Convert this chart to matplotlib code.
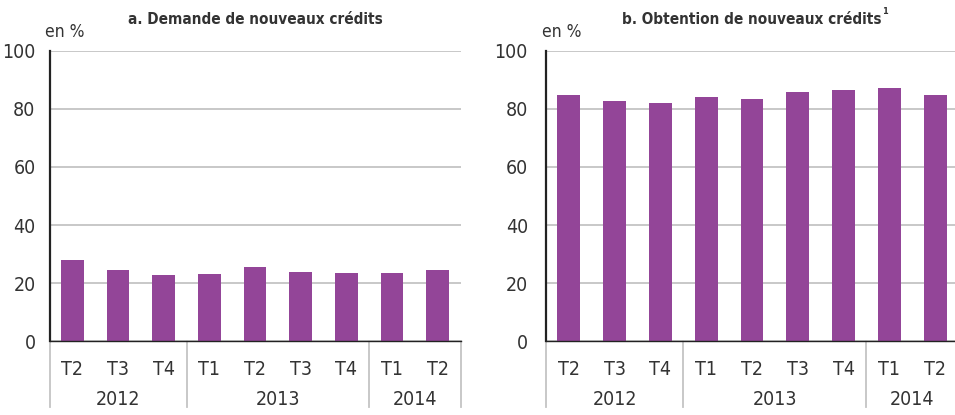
import matplotlib as mpl
import matplotlib.pyplot as plt
import matplotlib.transforms as mtransforms

mpl.use("Agg")

plt.rcParams["font.family"] = ["DejaVu Sans"]
plt.rcParams["font.stretch"] = "condensed"

IMAGE_DPI = 100.0

quarters = ["T2", "T3", "T4", "T1", "T2", "T3", "T4", "T1", "T2"]
years = ["2012", "2013", "2014"]
year_centers = [1.0, 4.5, 7.5]
year_bounds = [-0.5, 2.5, 6.5, 8.5]

demande = [27.9, 24.5, 22.8, 23.1, 25.5, 23.8, 23.4, 23.4, 24.5]
obtention = [84.7, 82.9, 82.2, 84.0, 83.6, 86.0, 86.7, 87.4, 84.9]

BAR_COLOR = "#934598"
TEXT_COLOR = "#333333"
GRID_COLOR = "#c4c4c4"


def plot_panel(fig, rect, values, title, sup, ypad):
    ax = fig.add_axes(rect)
    x = list(range(len(values)))
    ax.bar(x, values, width=0.5, color=BAR_COLOR, zorder=3)

    ax.set_xlim(-0.5, len(values) - 0.5)
    ax.set_ylim(0, 100)
    ax.set_yticks([0, 20, 40, 60, 80, 100])
    ax.yaxis.grid(True, color=GRID_COLOR, linewidth=1.3, zorder=0)
    ax.set_axisbelow(True)

    for side in ["top", "right"]:
        ax.spines[side].set_visible(False)
    ax.spines["left"].set_color("#222222")
    ax.spines["left"].set_linewidth(1.6)
    ax.spines["bottom"].set_color("#222222")
    ax.spines["bottom"].set_linewidth(1.0)
    ax.spines["left"].set_zorder(4)
    ax.spines["bottom"].set_zorder(4)

    ax.tick_params(axis="y", length=0, pad=ypad, labelsize=14, labelcolor=TEXT_COLOR)
    ax.set_xticks(x)
    ax.set_xticklabels(quarters)
    ax.tick_params(axis="x", length=0, pad=14, labelsize=14, labelcolor=TEXT_COLOR)

    trans = mtransforms.blended_transform_factory(ax.transData, ax.transAxes)
    for xc, yr in zip(year_centers, years):
        ax.text(xc, -0.2, yr, transform=trans, ha="center", va="center",
                fontsize=14, color=TEXT_COLOR)
    for xb in year_bounds:
        ax.plot([xb, xb], [0, -0.228], transform=trans, color=GRID_COLOR,
                linewidth=1.3, clip_on=False)

    t = ax.text(0.5, 1.0 + 32 / 290, title, transform=ax.transAxes, ha="center",
                va="center", fontsize=11, fontweight="bold", color=TEXT_COLOR)
    if sup:
        ax.annotate(sup, xy=(1.0, 0.7), xycoords=t, xytext=(0.5, 0),
                    textcoords="offset points", ha="left", va="bottom",
                    fontsize=6.5, fontweight="bold", color=TEXT_COLOR)
    ax.text(-0.01, 1.0 + 19 / 290, "en %", transform=ax.transAxes, ha="left",
            va="center", fontsize=12.5, color=TEXT_COLOR)
    return ax


fig = plt.figure(figsize=(955 / IMAGE_DPI, 415 / IMAGE_DPI), dpi=IMAGE_DPI)

plot_panel(fig, [49.5 / 955, 1 - 341 / 415, 411 / 955, 290 / 415], demande,
           "a. Demande de nouveaux crédits", None, 10)
plot_panel(fig, [546 / 955, 1 - 341 / 415, 412 / 955, 290 / 415], obtention,
           "b. Obtention de nouveaux crédits", "1", 13)

fig.savefig("out.png", dpi=IMAGE_DPI)
